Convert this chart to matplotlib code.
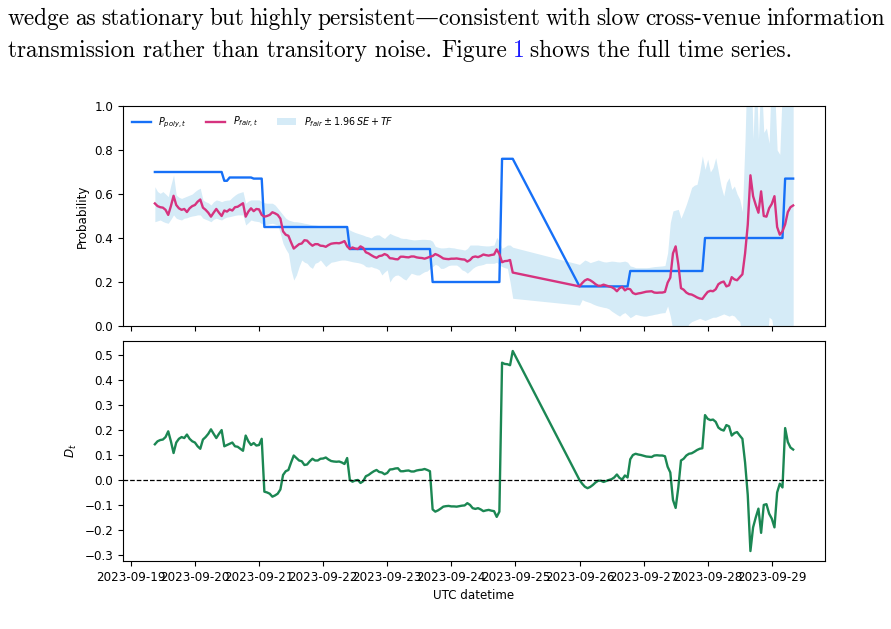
"""Probability wedge figure: Polymarket price vs fair value, and the gap D_t."""
import matplotlib
matplotlib.use("Agg")  # non-interactive backend
import matplotlib.pyplot as plt  # noqa: E402
import matplotlib.dates as mdates  # noqa: E402
import numpy as np  # noqa: E402
import pandas as pd  # noqa: E402

# ── data ─────────────────────────────────────────────────────────────
# hourly stamps, with a missing stretch on 2023-09-25
times_a = pd.date_range("2023-09-19 09:00", "2023-09-24 23:00", freq="h")
times_b = pd.date_range("2023-09-26 00:00", "2023-09-29 08:00", freq="h")
times = times_a.append(times_b)

p_poly = (
    [0.70] * 26 + [0.66] * 2 + [0.675] * 9 + [0.67] * 4
    + [0.45] * 32 + [0.35] * 31 + [0.20] * 26 + [0.76] * 5
    + [0.18] * 19 + [0.25] * 28 + [0.40] * 30 + [0.67] * 4
)

p_fair = [
    0.557, 0.545, 0.540, 0.538, 0.528, 0.505, 0.545, 0.592, 0.550, 0.535, 0.528, 0.532,
    0.518, 0.535, 0.545, 0.550, 0.565, 0.575, 0.538, 0.528, 0.515, 0.497, 0.515, 0.532,
    0.515, 0.500, 0.525, 0.520, 0.530, 0.525, 0.540, 0.542, 0.550, 0.558, 0.497, 0.520,
    0.535, 0.522, 0.532, 0.530, 0.505, 0.497, 0.500, 0.505, 0.517, 0.512, 0.505, 0.488,
    0.430, 0.415, 0.410, 0.380, 0.352, 0.362, 0.372, 0.375, 0.390, 0.388, 0.375, 0.365,
    0.372, 0.372, 0.365, 0.364, 0.360, 0.368, 0.374, 0.376, 0.377, 0.376, 0.380, 0.386,
    0.362, 0.350, 0.357, 0.352, 0.350, 0.362, 0.355, 0.335, 0.330, 0.322, 0.315, 0.310,
    0.318, 0.320, 0.327, 0.322, 0.308, 0.307, 0.304, 0.303, 0.315, 0.315, 0.313, 0.312,
    0.316, 0.316, 0.312, 0.310, 0.309, 0.306, 0.310, 0.315, 0.318, 0.327, 0.322, 0.315,
    0.307, 0.305, 0.304, 0.306, 0.306, 0.307, 0.305, 0.303, 0.302, 0.293, 0.300, 0.313,
    0.316, 0.313, 0.318, 0.325, 0.322, 0.320, 0.323, 0.325, 0.348, 0.327, 0.290, 0.295,
    0.296, 0.300, 0.243,
    # 2023-09-26 onwards
    0.180, 0.195, 0.207, 0.213, 0.208, 0.200, 0.190, 0.183, 0.183, 0.188, 0.184, 0.180,
    0.177, 0.170, 0.158, 0.172, 0.178, 0.162, 0.170, 0.167, 0.150, 0.145, 0.148, 0.150,
    0.153, 0.156, 0.157, 0.158, 0.152, 0.151, 0.152, 0.152, 0.155, 0.197, 0.220, 0.330,
    0.362, 0.280, 0.172, 0.165, 0.152, 0.145, 0.143, 0.137, 0.130, 0.125, 0.123, 0.140,
    0.155, 0.160, 0.158, 0.167, 0.190, 0.198, 0.202, 0.180, 0.185, 0.222, 0.212, 0.208,
    0.222, 0.235, 0.330, 0.460, 0.685, 0.590, 0.550, 0.515, 0.612, 0.500, 0.497, 0.535,
    0.555, 0.590, 0.450, 0.415, 0.430, 0.462, 0.518, 0.540, 0.548,
]

band_hi = [
    0.633, 0.611, 0.603, 0.611, 0.600, 0.588, 0.641, 0.686, 0.595, 0.585, 0.580, 0.585,
    0.590, 0.595, 0.600, 0.611, 0.620, 0.626, 0.573, 0.565, 0.560, 0.550, 0.565, 0.573,
    0.570, 0.565, 0.570, 0.572, 0.573, 0.585, 0.595, 0.603, 0.607, 0.611, 0.558, 0.568,
    0.573, 0.573, 0.573, 0.573, 0.565, 0.560, 0.558, 0.558, 0.558, 0.550, 0.535, 0.520,
    0.505, 0.490, 0.482, 0.478, 0.474, 0.474, 0.472, 0.470, 0.467, 0.465, 0.462, 0.460,
    0.459, 0.457, 0.455, 0.453, 0.452, 0.452, 0.452, 0.452, 0.452, 0.452, 0.452, 0.452,
    0.445, 0.436, 0.430, 0.425, 0.421, 0.417, 0.413, 0.408, 0.405, 0.400, 0.410, 0.414,
    0.414, 0.405, 0.398, 0.410, 0.421, 0.415, 0.410, 0.406, 0.400, 0.398, 0.398, 0.395,
    0.393, 0.391, 0.392, 0.393, 0.394, 0.394, 0.393, 0.392, 0.385, 0.362, 0.358, 0.355,
    0.355, 0.356, 0.358, 0.356, 0.355, 0.352, 0.350, 0.348, 0.345, 0.352, 0.368, 0.368,
    0.368, 0.368, 0.366, 0.365, 0.364, 0.364, 0.366, 0.368, 0.403, 0.385, 0.353, 0.360,
    0.368, 0.368, 0.358,
    0.280, 0.290, 0.300, 0.295, 0.288, 0.292, 0.296, 0.300, 0.296, 0.292, 0.291, 0.293,
    0.295, 0.294, 0.292, 0.291, 0.293, 0.295, 0.290, 0.273, 0.270, 0.265, 0.265, 0.265,
    0.265, 0.265, 0.266, 0.268, 0.270, 0.271, 0.272, 0.273, 0.275, 0.333, 0.470, 0.523,
    0.527, 0.530, 0.490, 0.520, 0.553, 0.590, 0.630, 0.640, 0.644, 0.700, 0.773, 0.712,
    0.758, 0.700, 0.720, 0.765, 0.700, 0.636, 0.591, 0.652, 0.674, 0.621, 0.636, 0.600,
    0.576, 0.520, 0.850, 1.300, 1.300, 0.850, 1.200, 0.850, 1.150, 0.880, 0.900, 0.830,
    1.200, 1.100, 0.800, 0.780, 1.100, 1.300, 1.400, 1.400, 1.300,
]

band_lo = [
    0.474, 0.478, 0.482, 0.475, 0.470, 0.467, 0.485, 0.505, 0.490, 0.485, 0.482, 0.490,
    0.492, 0.497, 0.500, 0.502, 0.505, 0.505, 0.490, 0.485, 0.480, 0.474, 0.485, 0.490,
    0.485, 0.482, 0.490, 0.495, 0.497, 0.500, 0.503, 0.505, 0.505, 0.505, 0.459, 0.470,
    0.482, 0.478, 0.476, 0.474, 0.465, 0.459, 0.462, 0.465, 0.467, 0.463, 0.459, 0.420,
    0.375, 0.350, 0.330, 0.255, 0.209, 0.232, 0.270, 0.300, 0.290, 0.285, 0.270, 0.262,
    0.285, 0.290, 0.300, 0.285, 0.270, 0.280, 0.290, 0.292, 0.295, 0.298, 0.300, 0.300,
    0.298, 0.295, 0.292, 0.290, 0.288, 0.285, 0.280, 0.270, 0.268, 0.270, 0.265, 0.262,
    0.255, 0.232, 0.245, 0.255, 0.200, 0.220, 0.230, 0.232, 0.225, 0.215, 0.209, 0.225,
    0.240, 0.236, 0.232, 0.232, 0.240, 0.247, 0.250, 0.262, 0.270, 0.280, 0.275, 0.262,
    0.262, 0.268, 0.275, 0.277, 0.277, 0.277, 0.268, 0.255, 0.250, 0.240, 0.250, 0.262,
    0.270, 0.275, 0.277, 0.280, 0.285, 0.285, 0.285, 0.285, 0.290, 0.277, 0.270, 0.265,
    0.262, 0.200, 0.126,
    0.095, 0.120, 0.114, 0.110, 0.106, 0.100, 0.095, 0.091, 0.088, 0.085, 0.083, 0.078,
    0.068, 0.060, 0.052, 0.045, 0.055, 0.061, 0.050, 0.038, 0.045, 0.053, 0.050, 0.047,
    0.045, 0.045, 0.048, 0.050, 0.053, 0.055, 0.058, 0.060, 0.061, 0.091, 0.045, -0.020,
    -0.050, -0.080, -0.060, -0.030, -0.010, 0.010, 0.020, 0.025, 0.030, 0.035, 0.030, 0.025,
    0.030, 0.035, 0.040, 0.040, 0.045, 0.050, 0.055, 0.050, 0.045, 0.050, 0.045, 0.030,
    0.020, -0.050, -0.200, -0.300, -0.200, -0.100, -0.100, -0.050, 0.000, -0.100, -0.100, 0.040,
    0.030, -0.050, -0.100, -0.200, -0.300, -0.300, -0.400, -0.400, -0.300,
]

para_line1 = "wedge as stationary but highly persistent\u2014consistent with slow cross-venue information"
para_line2 = [("transmission rather than transitory noise.", "black", 9),
              ("Figure", "black", 6),
              ("1", "#1a1aff", 6),
              ("shows the full time series.", "black", 0)]

BLUE = "#1670f7"
PINK = "#d6337f"
GREEN = "#1b8753"
BAND = "#d5ebf7"

plt.rcParams["font.size"] = 8.6

# ── figure ───────────────────────────────────────────────────────────
fig = plt.figure(figsize=(8.91, 6.29), dpi=100)
ax1 = fig.add_axes([0.138, 0.4817, 0.788, 0.3498])
ax2 = fig.add_axes([0.138, 0.108, 0.788, 0.3499], sharex=ax1)

t = np.asarray(times.to_pydatetime())
poly = np.array(p_poly)
fair = np.array(p_fair)

ax1.plot(t, poly, color=BLUE, lw=1.7, label=r"$P_{poly,t}$")
ax1.plot(t, fair, color=PINK, lw=1.7, label=r"$P_{fair,t}$")
ax1.fill_between(t, band_lo, band_hi, color=BAND, lw=0,
                 label=r"$P_{fair} \pm 1.96\,SE + TF$")
ax1.set_ylim(0, 1)
ax1.set_ylabel("Probability")
ax1.legend(loc="upper left", ncol=3, frameon=False, fontsize=6.9)
ax1.tick_params(labelbottom=False)

ax2.plot(t, poly - fair, color=GREEN, lw=1.7)
ax2.axhline(0, color="black", ls="--", lw=0.9)
ax2.set_ylabel(r"$D_t$")
ax2.set_xlabel("UTC datetime")
ax2.xaxis.set_major_locator(mdates.DayLocator())
ax2.xaxis.set_major_formatter(mdates.DateFormatter("%Y-%m-%d"))

# ── paragraph text above the figure (justified first line) ───────────
serif = ["cmr10", "DejaVu Serif"]
fsize = 16.8
W, H = 891, 629
renderer = fig.canvas.get_renderer()


def word_width(s):
    tmp = fig.text(0, 0, s, family=serif, fontsize=fsize)
    w = tmp.get_window_extent(renderer=renderer).width
    tmp.remove()
    return w


words = para_line1.split(" ")
widths = [word_width(w) for w in words]
gap = (877 - sum(widths)) / (len(words) - 1)
xpx = 8.0
for w, wd in zip(words, widths):
    fig.text(xpx / W, 1 - 25 / H, w, family=serif, fontsize=fsize, va="baseline")
    xpx += wd + gap

xpx = 8.0
for chunk, colour, space in para_line2:
    fig.text(xpx / W, 1 - 57 / H, chunk, family=serif, fontsize=fsize,
             va="baseline", color=colour)
    xpx += word_width(chunk) + space

fig.savefig("out.png", dpi=100)
plt.close(fig)
